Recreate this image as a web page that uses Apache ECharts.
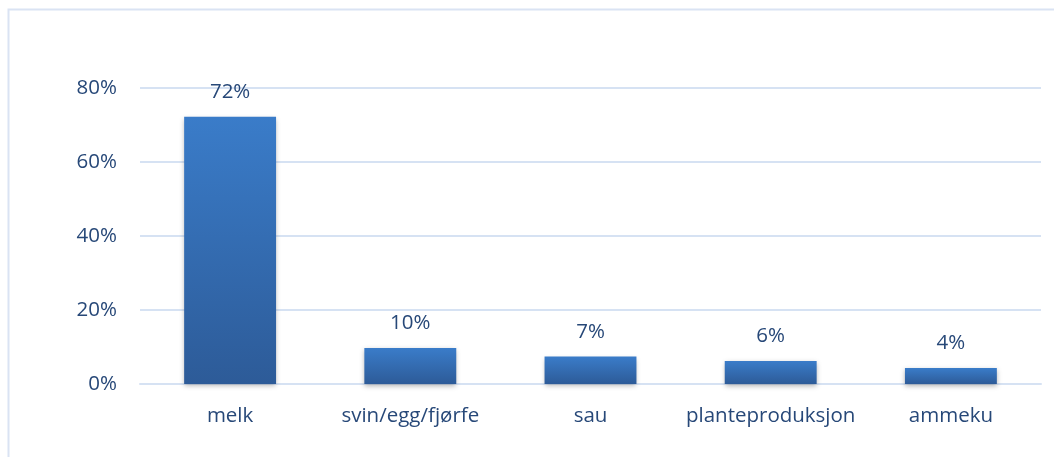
<!DOCTYPE html>
<html>
<head>
<meta charset="utf-8">
<script src="https://cdn.jsdelivr.net/npm/echarts@6/dist/echarts.min.js"></script>
<style>
  html, body { margin:0; padding:0; background:#fff; }
  #main { width:1054px; height:457px; }
</style>
</head>
<body>
<div id="main"></div>
<script>
// kategorier og andeler (%)
var categories = ["melk", "svin/egg/fjørfe", "sau", "planteproduksjon", "ammeku"];
var shares     = [72.2, 9.7, 7.4, 6.2, 4.3];
var yTicks     = { min:0, max:80, interval:20 };

var textColor = "#274878";
var font = "'Open Sans', 'Noto Sans', sans-serif";

var myChart = echarts.init(document.getElementById('main'));
myChart.setOption({
    backgroundColor:"#ffffff",
    animation:false,
    //ramme
    graphic:[{
        type:"rect",
        shape:{ x:8.5, y:9.5, width:1200, height:600 },
        style:{ fill:"none", stroke:"#DAE3F3", lineWidth:2 }
    }],
    grid:{ left:140, right:13, top:88, bottom:73 },
    xAxis:{
        type:"category",
        data:categories,
        axisLine:{ show:true, lineStyle:{ color:"#D6E2F3", width:2 } },
        axisTick:{ show:false },
        axisLabel:{ color:textColor, fontSize:20.5, fontFamily:font, margin:22, interval:0 }
    },
    yAxis:{
        type:"value",
        min:yTicks.min,
        max:yTicks.max,
        interval:yTicks.interval,
        axisLine:{ show:false },
        axisTick:{ show:false },
        splitLine:{ lineStyle:{ color:"#D6E2F3", width:2 } },
        axisLabel:{ color:textColor, fontSize:20.5, fontFamily:font, margin:23,
            formatter:"{value}%" }
    },
    series:[{
        type:"bar",
        data:shares,
        barWidth:"51%",
        itemStyle:{
            color:new echarts.graphic.LinearGradient(0, 0, 0, 1, [
                { offset:0, color:"#3A7CC9" },
                { offset:1, color:"#2D5B98" }
            ]),
            shadowColor:"rgba(0,0,0,0.3)",
            shadowBlur:5,
            shadowOffsetY:2
        },
        label:{
            show:true,
            position:"top",
            distance:14,
            color:textColor,
            fontSize:20.5,
            fontFamily:font,
            formatter:function(p){ return Math.round(p.value) + "%"; }
        }
    }]
});
</script>
</body>
</html>
